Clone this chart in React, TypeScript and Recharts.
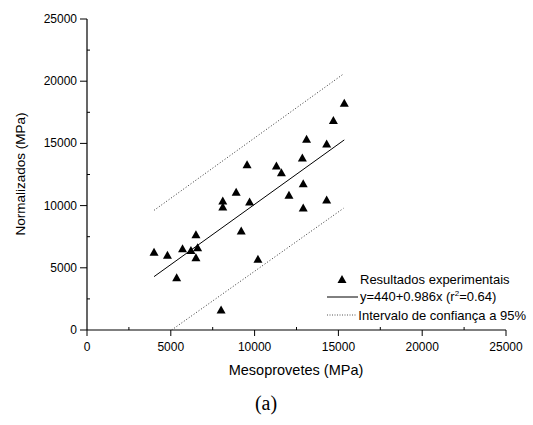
import React from 'react';
import { ScatterChart, Scatter, XAxis, YAxis, Legend } from 'recharts';

// pontos experimentais
const mesoprovetes = [
  4000, 4800, 5350, 5700, 6200, 6500, 6600, 6500, 8100, 8100, 8000, 8900, 9200, 9550,
  9700, 10200, 11300, 11600, 12050, 12850, 12900, 12900, 13100, 14300, 14300, 14700, 15350,
];
const normalizados = [
  6250, 6000, 4200, 6540, 6400, 7660, 6620, 5810, 10370, 9890, 1610, 11070, 7960, 13290,
  10290, 5680, 13180, 12650, 10830, 13830, 11760, 9810, 15330, 14950, 10450, 16840, 18220,
];

// regressão e intervalo de confiança (extremos das retas)
const regressao = [
  { x: 4000, y: 4290 },
  { x: 15350, y: 15280 },
];
const limiteSuperior = [
  { x: 4000, y: 9620 },
  { x: 15300, y: 20580 },
];
const limiteInferior = [
  { x: 5050, y: 0 },
  { x: 15300, y: 9780 },
];

const axisTicks = [0, 2500, 5000, 7500, 10000, 12500, 15000, 17500, 20000, 22500, 25000];
const legendLabels = ['Resultados experimentais', 'Intervalo de confiança a 95%'];

const pontos = mesoprovetes.map((x, i) => ({ x, y: normalizados[i] }));

const FONT = '"Liberation Sans", Arial, Helvetica, sans-serif';

const Triangle = (props: any) => {
  const { cx, cy } = props;
  if (cx == null || cy == null) return <g />;
  return <polygon points={`${cx},${cy - 4.5} ${cx + 4.5},${cy + 3.5} ${cx - 4.5},${cy + 3.5}`} fill="#000" />;
};

const NoDot = () => <g />;

const XTick = (props: any) => {
  const { x, y, payload } = props;
  const major = payload.value % 5000 === 0;
  return (
    <g>
      <line x1={x} y1={y} x2={x} y2={major ? y + 6 : y - 3} stroke="#000" strokeWidth={1} />
      {major && (
        <text x={x} y={y + 21} textAnchor="middle" fontSize={12} fontFamily={FONT} fill="#000">
          {payload.value}
        </text>
      )}
    </g>
  );
};

const YTick = (props: any) => {
  const { x, y, payload } = props;
  const major = payload.value % 5000 === 0;
  return (
    <g>
      <line x1={x} y1={y} x2={major ? x - 7 : x + 3} y2={y} stroke="#000" strokeWidth={1} />
      {major && (
        <text x={x - 10} y={y + 4} textAnchor="end" fontSize={12} fontFamily={FONT} fill="#000">
          {payload.value}
        </text>
      )}
    </g>
  );
};

const LegendBox = () => {
  const row: React.CSSProperties = { display: 'flex', alignItems: 'center', height: 18, whiteSpace: 'nowrap' };
  const txt: React.CSSProperties = { fontSize: 13, fontFamily: FONT, color: '#000', marginLeft: 2 };
  return (
    <div>
      <div style={row}>
        <svg width={32} height={18}>
          <polygon points="16,5 20.5,13 11.5,13" fill="#000" />
        </svg>
        <span style={txt}>{legendLabels[0]}</span>
      </div>
      <div style={row}>
        <svg width={32} height={18}>
          <line x1={1} y1={9} x2={32} y2={9} stroke="#000" strokeWidth={1} />
        </svg>
        <span style={txt}>
          y=440+0.986x (r<sup style={{ fontSize: 8 }}>2</sup>=0.64)
        </span>
      </div>
      <div style={row}>
        <svg width={32} height={18}>
          <line x1={1} y1={9} x2={32} y2={9} stroke="#555" strokeWidth={1} strokeDasharray="1 1.5" />
        </svg>
        <span style={txt}>{legendLabels[1]}</span>
      </div>
    </div>
  );
};

export default function App() {
  return (
    <div style={{ position: 'absolute', left: 0, top: 0, width: 533, height: 425, background: '#fff' }}>
      <ScatterChart width={533} height={425} margin={{ top: 19, right: 27, left: 27, bottom: 65 }}>
        <XAxis
          type="number"
          dataKey="x"
          domain={[0, 25000]}
          ticks={axisTicks}
          interval={0}
          height={30}
          tickSize={0}
          tickMargin={0}
          tickLine={false}
          tick={<XTick />}
          axisLine={{ stroke: '#000', strokeWidth: 1.2 }}
          allowDataOverflow
        />
        <YAxis
          type="number"
          dataKey="y"
          domain={[0, 25000]}
          ticks={axisTicks}
          interval={0}
          width={60}
          tickSize={0}
          tickMargin={0}
          tickLine={false}
          tick={<YTick />}
          axisLine={{ stroke: '#000', strokeWidth: 1.2 }}
          allowDataOverflow
        />
        <Scatter data={pontos} shape={<Triangle />} isAnimationActive={false} />
        <Scatter data={regressao} line={{ stroke: '#000', strokeWidth: 1 }} shape={<NoDot />} isAnimationActive={false} />
        <Scatter
          data={limiteSuperior}
          line={{ stroke: '#333', strokeWidth: 1, strokeDasharray: '1 2' }}
          shape={<NoDot />}
          isAnimationActive={false}
        />
        <Scatter
          data={limiteInferior}
          line={{ stroke: '#333', strokeWidth: 1, strokeDasharray: '1 2' }}
          shape={<NoDot />}
          isAnimationActive={false}
        />
        <Legend
          layout="vertical"
          align="center"
          verticalAlign="middle"
          content={<LegendBox />}
          wrapperStyle={{ left: 326, top: 270, width: 200 }}
        />
        <text x={296} y={375} textAnchor="middle" fontSize={14.5} fontFamily={FONT} fill="#000">
          Mesoprovetes (MPa)
        </text>
        <text
          x={25}
          y={174}
          textAnchor="middle"
          fontSize={13.5}
          fontFamily={FONT}
          fill="#000"
          transform="rotate(-90 25 174)"
        >
          Normalizados (MPa)
        </text>
        <text x={266} y={410} textAnchor="middle" fontSize={20} fontFamily='"Liberation Serif", "Times New Roman", serif' fill="#000">
          (a)
        </text>
      </ScatterChart>
    </div>
  );
}
